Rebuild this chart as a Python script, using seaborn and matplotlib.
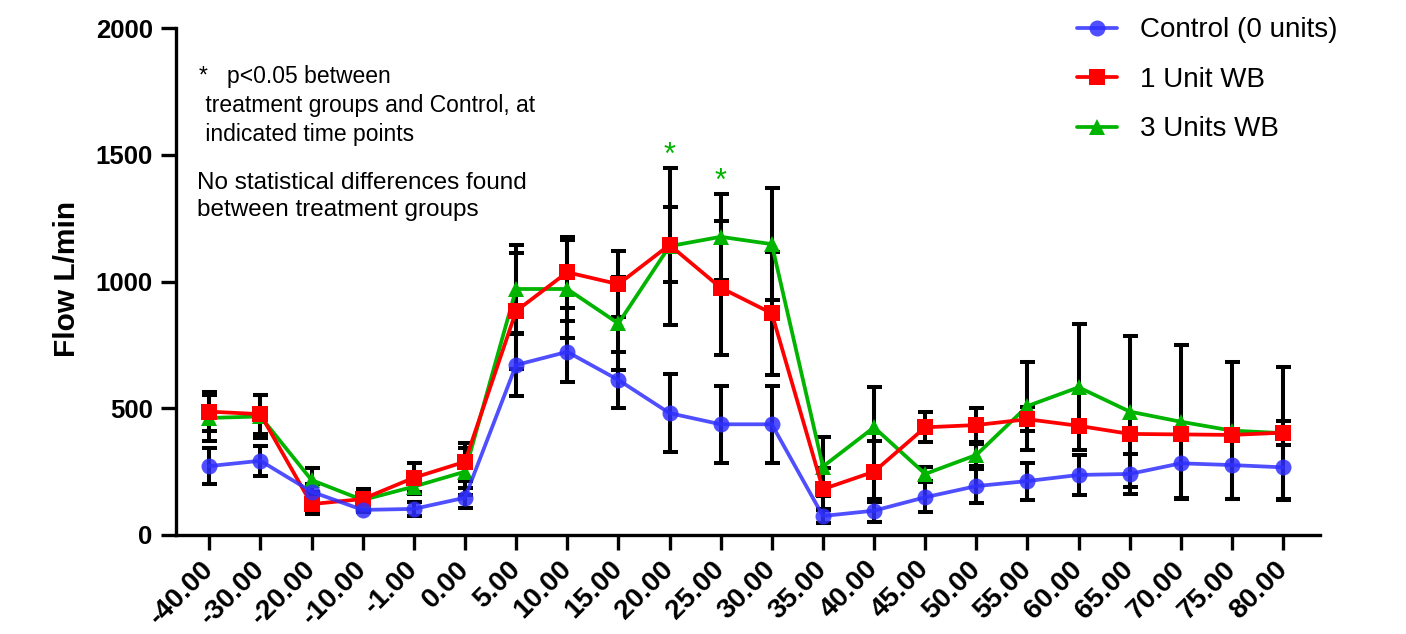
import numpy as np
import matplotlib
matplotlib.use("Agg")
import matplotlib.pyplot as plt
import seaborn as sns

# --- Data (mean +/- SD) -----------------------------------------------------
TIME_LABELS = ["-40.00", "-30.00", "-20.00", "-10.00", "-1.00", "0.00",
               "5.00", "10.00", "15.00", "20.00", "25.00", "30.00",
               "35.00", "40.00", "45.00", "50.00", "55.00", "60.00",
               "65.00", "70.00", "75.00", "80.00"]

CONTROL_MEAN = [272, 293, 171, 99, 103, 147, 671, 723, 612, 481, 437, 437,
                75, 96, 149, 193, 213, 237, 241, 283, 276, 267]
CONTROL_SD = [72, 59, 30, 10, 27, 40, 121, 120, 109, 155, 152, 152,
              29, 46, 60, 68, 73, 79, 80, 138, 135, 126]

UNIT1_MEAN = [487, 477, 122, 142, 226, 289, 884, 1037, 990, 1145, 976, 875,
              181, 250, 425, 434, 457, 431, 399, 397, 395, 404]
UNIT1_SD = [77, 77, 39, 40, 58, 75, 230, 140, 130, 148, 265, 244,
            82, 120, 59, 68, 48, 20, 20, 20, 15, 47]

UNIT3_MEAN = [462, 468, 217, 138, 191, 250, 971, 971, 835, 1140, 1177, 1148,
              270, 425, 241, 316, 509, 583, 487, 447, 412, 402]
UNIT3_SD = [92, 85, 47, 28, 30, 93, 173, 195, 185, 310, 170, 222,
            116, 160, 29, 43, 175, 248, 298, 303, 270, 262]

SERIES = ["Control (0 units)", "1 Unit WB", "3 Units WB"]
SIG_TIMES = ["20.00", "25.00"]   # p<0.05 vs Control (3 Units WB)

# --- Style -------------------------------------------------------------------
sns.set_theme(style="ticks")
plt.rcParams.update({
    "font.family": ["Liberation Sans", "DejaVu Sans"],
    "text.color": "black",
    "axes.labelcolor": "black",
    "axes.edgecolor": "black",
    "xtick.color": "black",
    "ytick.color": "black",
    "axes.linewidth": 2.4,
    "xtick.major.width": 2.4,
    "ytick.major.width": 2.4,
    "xtick.major.size": 10.8,
    "ytick.major.size": 10.8,
})
BLUE, RED, GREEN = "#3030ff", "#ff0000", "#00b400"

fig = plt.figure(figsize=(14.06, 6.34), dpi=100)
ax = fig.add_axes([176 / 1406, 1 - 535 / 634, 1144 / 1406, 506.7 / 634])

styles = [
    (UNIT3_MEAN, UNIT3_SD, GREEN, "^", SERIES[2], 1.0, 2.0),
    (UNIT1_MEAN, UNIT1_SD, RED, "s", SERIES[1], 1.0, 2.1),
    (CONTROL_MEAN, CONTROL_SD, BLUE, "o", SERIES[0], 0.85, 2.2),
]

for mean, sd, color, marker, label, alpha, z in styles:
    ax.errorbar(TIME_LABELS, mean, yerr=sd, fmt="none", ecolor="black",
                elinewidth=2.9, capsize=5.4, capthick=2.9, zorder=1.5)

for mean, sd, color, marker, label, alpha, z in styles:
    sns.lineplot(x=TIME_LABELS, y=mean, color=color, marker=marker,
                 markersize=11.5, markeredgewidth=0, linewidth=2.7,
                 alpha=alpha, label=label, sort=False, zorder=z, ax=ax)

# significance asterisks above the highest error bar
tops = np.max([np.add(m, s) for m, s, *_ in styles], axis=0)
for t in SIG_TIMES:
    i = TIME_LABELS.index(t)
    ax.text(t, tops[i] + 45, "*", color=GREEN, fontsize=22,
            ha="center", va="center")

ax.set_ylim(0, 2000)
ax.set_xlim(-0.65, 21.72)
ax.set_yticks([0, 500, 1000, 1500, 2000])
ax.set_ylabel("Flow L/min", fontsize=21.5, fontweight="bold")
ax.yaxis.set_label_coords(-0.083, 0.505)
ax.set_xlabel("")
ax.tick_params(axis="y", labelsize=18.5, pad=6)
ax.tick_params(axis="x", labelsize=20, pad=11)
for lab in ax.get_yticklabels():
    lab.set_fontweight("bold")
for lab in ax.get_xticklabels():
    lab.set_fontweight("bold")
    lab.set_rotation(45)
    lab.set_ha("right")
    lab.set_va("center")
    lab.set_rotation_mode("anchor")
sns.despine(ax=ax)

ax.text(0.020, 0.928,
        "*   p<0.05 between\n treatment groups and Control, at\n indicated time points",
        transform=ax.transAxes, fontsize=16.5, va="top", ha="left",
        linespacing=1.34)
ax.text(0.018, 0.717,
        "No statistical differences found\nbetween treatment groups",
        transform=ax.transAxes, fontsize=17.5, va="top", ha="left",
        linespacing=1.29)

handles, labels = ax.get_legend_handles_labels()
order = [labels.index(s) for s in SERIES]
ax.get_legend().remove()
fig.legend([handles[i] for i in order], SERIES, loc="upper left",
           bbox_to_anchor=(1077 / 1406, 1 - 17.4 / 634), frameon=False,
           borderpad=0, borderaxespad=0, fontsize=20, handlelength=1.45,
           handletextpad=0.83, labelspacing=0.845)

fig.savefig("out.png", dpi=100, facecolor="white")
